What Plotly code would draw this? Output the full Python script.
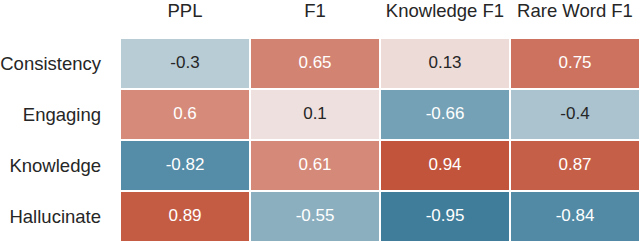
import plotly.graph_objects as go

metrics = ["PPL", "F1", "Knowledge F1", "Rare Word F1"]
aspects = ["Consistency", "Engaging", "Knowledge", "Hallucinate"]
consistency = [-0.3, 0.65, 0.13, 0.75]
engaging = [0.6, 0.1, -0.66, -0.4]
knowledge = [-0.82, 0.61, 0.94, 0.87]
hallucinate = [0.89, -0.55, -0.95, -0.84]

z = [consistency, engaging, knowledge, hallucinate]

colorscale = [
    [0.0, "rgb(59,122,152)"],
    [0.025, "rgb(63,125,154)"],
    [0.09, "rgb(85,140,167)"],
    [0.17, "rgb(116,161,181)"],
    [0.225, "rgb(140,175,192)"],
    [0.3, "rgb(170,195,207)"],
    [0.35, "rgb(184,204,214)"],
    [0.5, "rgb(242,240,240)"],
    [0.55, "rgb(238,224,222)"],
    [0.8, "rgb(214,139,122)"],
    [0.875, "rgb(205,114,94)"],
    [0.97, "rgb(193,84,58)"],
    [1.0, "rgb(191,80,53)"],
]

fig = go.Figure()
fig.add_trace(go.Heatmap(
    z=z, x=metrics, y=aspects, zmin=-1, zmax=1,
    colorscale=colorscale, showscale=False, xgap=2, ygap=2,
    hoverinfo="skip",
))

xs, ys, txt, cols = [], [], [], []
for row, name in zip(z, aspects):
    for v, m in zip(row, metrics):
        xs.append(m)
        ys.append(name)
        txt.append(f"{v:g}")
        cols.append("white" if abs(v) >= 0.5 else "#262626")

fig.add_trace(go.Scatter(
    x=xs, y=ys, text=txt, mode="text",
    textfont=dict(color=cols, size=17, family="Liberation Sans, Arial"),
    hoverinfo="skip", showlegend=False,
))

fig.update_layout(
    width=640, height=242,
    margin=dict(l=120, r=0, t=38, b=0),
    paper_bgcolor="white", plot_bgcolor="white",
    font=dict(family="Liberation Sans, Arial", size=18.5, color="#262626"),
    showlegend=False,
)
fig.update_xaxes(side="top", showgrid=False, zeroline=False, showline=False,
                 automargin=False, ticks="", ticklabelstandoff=16,
                 tickfont=dict(size=18.5), range=[-0.5, len(metrics) - 0.5])
fig.update_yaxes(showgrid=False, zeroline=False,
                 showline=False, automargin=False, ticks="",
                 ticklabelstandoff=18, tickfont=dict(size=18.5),
                 range=[len(aspects) - 0.5, -0.5])

fig.write_html("out.html", config={"displayModeBar": False},
               post_script="document.body.style.margin='0';")
